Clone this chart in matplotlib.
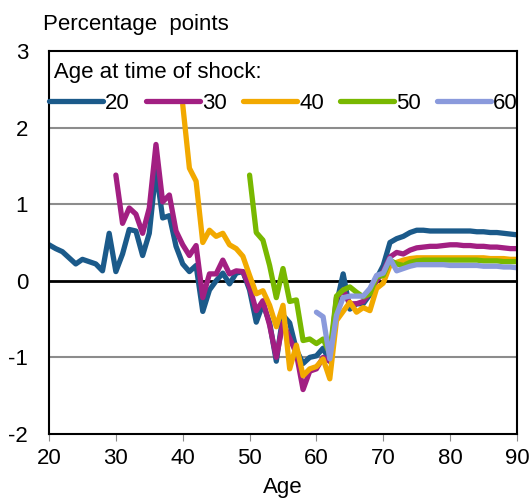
import numpy as np
import matplotlib
matplotlib.use('Agg')
import matplotlib.pyplot as plt

# ages for each shock cohort
age20 = np.arange(20, 91)
age30 = np.arange(30, 91)
age40 = np.arange(40, 91)
age50 = np.arange(50, 91)
age60 = np.arange(60, 91)

tail = [0.65, 0.65, 0.65, 0.65, 0.65, 0.65, 0.65, 0.64, 0.64, 0.63, 0.63, 0.62, 0.61, 0.60]

s20 = [0.47, 0.42, 0.38, 0.30, 0.22, 0.28, 0.25, 0.22, 0.13, 0.62,
       0.12, 0.35, 0.67, 0.65, 0.33, 0.62, 1.45, 0.82, 0.85, 0.45,
       0.22, 0.12, 0.20, -0.40, -0.12, 0.00, 0.10, -0.04, 0.10, 0.12,
       -0.12, -0.54, -0.30, -0.55, -1.05, -0.45, -0.55, -0.90, -1.08, -1.00,
       -0.98, -0.88, -1.05, -0.30, 0.09, -0.37, -0.30, -0.30, -0.18, 0.03,
       0.20, 0.50, 0.55, 0.58, 0.63, 0.66, 0.66] + tail

s30 = [1.38, 0.75, 0.95, 0.87, 0.62, 0.95, 1.78, 1.03, 1.12, 0.65,
       0.47, 0.33, 0.46, -0.22, 0.09, 0.09, 0.27, 0.09, 0.13, 0.12,
       -0.08, -0.39, -0.26, -0.58, -1.00, -0.55, -0.75, -0.95, -1.42, -1.18,
       -1.15, -1.00, -1.05, -0.22, -0.12, -0.30, -0.30, -0.27, -0.15, 0.00,
       0.12, 0.31, 0.37, 0.35, 0.40, 0.43, 0.44, 0.45, 0.45, 0.46,
       0.47, 0.47, 0.46, 0.46, 0.45, 0.45, 0.44, 0.44, 0.43, 0.42,
       0.42]

s40 = [2.30, 1.47, 1.30, 0.50, 0.66, 0.58, 0.62, 0.47, 0.42, 0.32,
       0.07, -0.17, -0.13, -0.32, -0.60, -0.32, -1.15, -0.84, -1.24, -1.15,
       -1.12, -1.02, -1.28, -0.52, -0.40, -0.28, -0.41, -0.35, -0.39, -0.10,
       -0.03, 0.20, 0.24, 0.27, 0.29, 0.30, 0.30, 0.30, 0.30, 0.30,
       0.30, 0.30, 0.30, 0.30, 0.30, 0.30, 0.29, 0.29, 0.29, 0.28,
       0.28]

s50 = [1.38, 0.63, 0.53, 0.20, -0.22, 0.16, -0.27, -0.25, -0.78, -0.76,
       -0.82, -0.76, -0.95, -0.20, -0.12, -0.08, -0.15, -0.21, -0.17, 0.05,
       0.07, 0.27, 0.22, 0.20, 0.24, 0.26, 0.27, 0.27, 0.27, 0.27,
       0.27, 0.27, 0.27, 0.27, 0.27, 0.26, 0.26, 0.26, 0.25, 0.25,
       0.25]

s60 = [-0.41, -0.47, -1.02, -0.45, -0.22, -0.20, -0.20, -0.20, -0.10, 0.07,
       0.10, 0.29, 0.13, 0.16, 0.19, 0.21, 0.21, 0.21, 0.21, 0.21,
       0.20, 0.20, 0.20, 0.20, 0.20, 0.19, 0.19, 0.19, 0.18, 0.18,
       0.17]

labels = ['20', '30', '40', '50', '60']
colors = ['#1B5A8A', '#A21F82', '#F2A900', '#78B800', '#8A9ADC']

plt.rcParams['font.family'] = ['Liberation Sans', 'DejaVu Sans']
plt.rcParams['axes.unicode_minus'] = False
fs = 16

fig = plt.figure(figsize=(5.31, 4.99), dpi=100)
ax = fig.add_axes([0.0923, 0.1303, 0.9736 - 0.0923, 0.8978 - 0.1303])

for a, s, lab, c in zip([age20, age30, age40, age50, age60],
                        [s20, s30, s40, s50, s60], labels, colors):
    ax.plot(a, s, color=c, lw=3.8, label=lab, solid_capstyle='round',
            solid_joinstyle='round')

for yv in [-1, 1, 2]:
    ax.axhline(yv, color='#8c8c8c', lw=1.5, zorder=0)
ax.axhline(0, color='black', lw=2, zorder=1)

ax.set_xlim(20, 90)
ax.set_ylim(-2, 3)
ax.set_xticks(range(20, 91, 10))
ax.set_yticks(range(-2, 4))
ax.tick_params(axis='x', labelsize=fs, length=5, color='#8c8c8c', pad=5)
ax.tick_params(axis='y', labelsize=fs, length=0, pad=15)
for sp in ax.spines.values():
    sp.set_linewidth(1.5)
ax.set_xlabel('Age', fontsize=fs, labelpad=6)

leg = ax.legend(loc='upper left', bbox_to_anchor=(0.0, 0.972), ncol=5,
                frameon=False, fontsize=fs, title=' Age at time of shock:',
                title_fontsize=fs, handlelength=2.43, handletextpad=0.1,
                columnspacing=0.72, borderaxespad=0.0, borderpad=0.0,
                labelspacing=0.45, alignment='left')

fig.text(0.081, 0.95, 'Percentage  points', fontsize=fs, va='center')

fig.savefig('out.png', dpi=100)
